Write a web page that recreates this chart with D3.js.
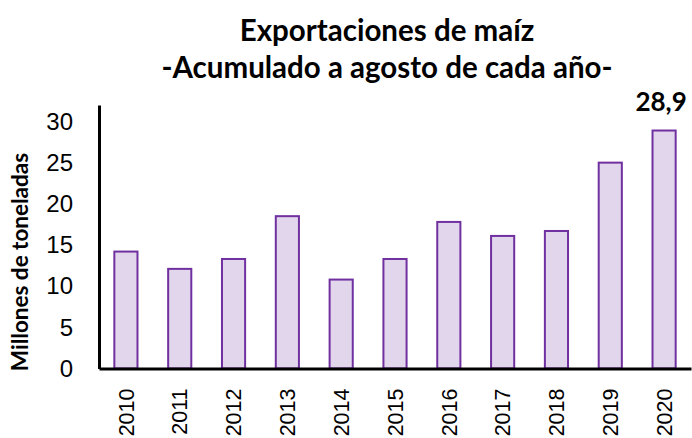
<!DOCTYPE html>
<html><head><meta charset="utf-8">
<script src="https://cdn.jsdelivr.net/npm/d3@7"></script>
<style>body{margin:0;background:#fff}svg{display:block}</style>
</head><body>
<script>
const years = ["2010","2011","2012","2013","2014","2015","2016","2017","2018","2019","2020"];
const values = [14.2,12.1,13.3,18.5,10.8,13.3,17.8,16.1,16.7,25.0,28.9];
const yTicks = [0,5,10,15,20,25,30];
const titleLines = ["Exportaciones de maíz","-Acumulado a agosto de cada año-"];
const yLabel = "Millones de toneladas";
const highlight = {index:10, text:"28,9"};

(function(){
const W=692,H=438;
const svg=d3.select("body").append("svg").attr("width",W).attr("height",H);
const mLeft=99,mRight=691,mTop=105,mBottom=368.5;
const x=d3.scaleBand().domain(years).range([mLeft,mRight]).paddingInner(0.57).paddingOuter(0.285);
const y=d3.scaleLinear().domain([0,32]).range([mBottom,mTop]);

svg.selectAll("rect.bar").data(values).enter().append("rect")
  .attr("x",(d,i)=>x(years[i])).attr("width",x.bandwidth())
  .attr("y",d=>y(d)).attr("height",d=>y(0)-y(d))
  .attr("fill","#E2D6EC").attr("stroke","#7030A0").attr("stroke-width",2);

const ya=svg.append("g").attr("transform",`translate(${mLeft},0)`)
  .call(d3.axisLeft(y).tickValues(yTicks).tickSize(0).tickPadding(26));
ya.select(".domain").attr("stroke","#000").attr("stroke-width",3);
ya.selectAll("text").attr("font-family","Liberation Sans, Arial, sans-serif").attr("font-size",24).attr("fill","#000");

const xa=svg.append("g").attr("transform",`translate(0,${mBottom})`)
  .call(d3.axisBottom(x).tickSize(0).tickPadding(0));
xa.select(".domain").attr("stroke","#000").attr("stroke-width",3);
xa.selectAll("text").attr("font-family","Liberation Sans, Arial, sans-serif").attr("font-size",21.5).attr("fill","#000")
  .attr("transform","rotate(-90)").attr("text-anchor","end").attr("x",-20).attr("y",0).attr("dy","0.36em");

svg.selectAll("text.title").data(titleLines).enter().append("text")
  .attr("x",387).attr("y",(d,i)=>41+i*37).attr("text-anchor","middle")
  .attr("font-family","Lato, sans-serif").attr("font-weight","bold").attr("font-size",29.5).attr("fill","#000")
  .text(d=>d);

svg.append("text").attr("transform","translate(28,262) rotate(-90)").attr("text-anchor","middle")
  .attr("font-family","Lato, sans-serif").attr("font-weight","bold").attr("font-size",22.5).attr("fill","#000").text(yLabel);

svg.append("text").attr("x",x(years[highlight.index])+x.bandwidth()/2-3).attr("y",y(values[highlight.index])-20)
  .attr("text-anchor","middle").attr("font-family","Lato, sans-serif").attr("font-weight","bold").attr("font-size",26).attr("fill","#000")
  .text(highlight.text);
})();
</script>
</body></html>
